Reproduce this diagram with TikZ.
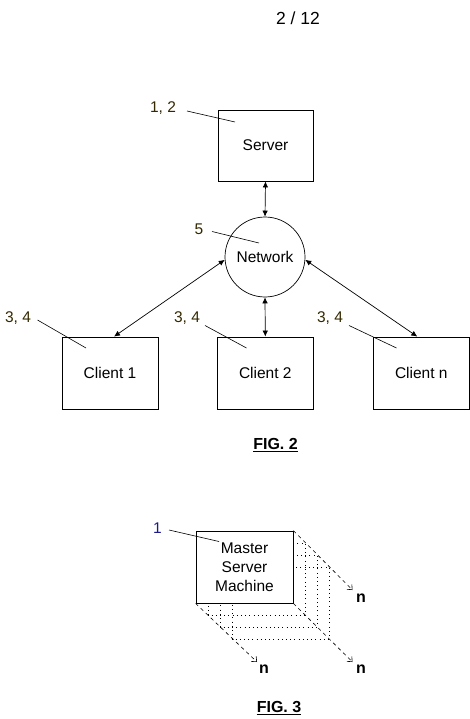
\documentclass[tikz,border=0pt]{standalone}
\usepackage{fontspec}
\setmainfont{Liberation Sans}
\usetikzlibrary{arrows.meta,calc}
\definecolor{numc}{HTML}{332800}
\definecolor{bluec}{HTML}{1A1A8C}
\begin{document}
\begin{tikzpicture}[x=1pt,y=-1pt,
  txt/.style={font=\fontsize{15.5}{19}\selectfont, inner sep=0pt},
  box/.style={draw, line width=0.8pt, minimum width=96pt, minimum height=72pt, inner sep=0pt, font=\fontsize{15.5}{19}\selectfont},
  num/.style={font=\fontsize{15.5}{19}\selectfont, inner sep=0pt, text=numc},
  lead/.style={line width=0.6pt},
  biarr/.style={line width=0.7pt, {Latex[length=6pt,width=5.5pt]}-{Latex[length=6pt,width=5.5pt]}},
  ghost/.style={line width=0.7pt, dash pattern=on 0.8pt off 3.4pt},
  darr/.style={line width=0.6pt, dash pattern=on 3.5pt off 3.5pt, -{Straight Barb[length=4pt,width=7pt]}},
  figlbl/.style={font=\bfseries\fontsize{16}{19}\selectfont, inner sep=0pt},
  ]
\useasboundingbox (0,0) rectangle (470,719);
% header
\node[font=\fontsize{17.5}{20}\selectfont, inner sep=0pt] (hdr) at (298,18) {2 / 12};
% FIG 2
\node[box, minimum width=95pt, minimum height=71pt] (srv) at (265.5,145.5) {Server};
\node[draw, circle, line width=0.7pt, minimum size=80pt, inner sep=0pt, font=\fontsize{15.5}{19}\selectfont] (net) at (265,257) {Network};
\node[box] (c1) at (110,373) {Client 1};
\node[box] (c2) at (265.3,373) {Client 2};
\node[box] (cn) at (421.3,373) {Client n};
\draw[biarr] (srv.south) -- (net.north);
\draw[biarr] (net.south) -- (c2.north);
\draw[biarr] ([xshift=4pt]c1.north) -- (net.184);
\draw[biarr] ([xshift=-4pt]cn.north) -- (net.356);
% reference numerals
\node[num] (n12) at (163,108) {1, 2};
\coordinate (n12e) at (235,122);
\draw[lead] (187,111) -- (n12e);
\node[num] (n5) at (199,229) {5};
\coordinate (n5e) at (259,243);
\draw[lead] (212,231.5) -- (n5e);
\node[num] (n34a) at (18,318) {3, 4};
\coordinate (n34ae) at (86,348);
\draw[lead] (37.5,320) -- (n34ae);
\node[num] (n34b) at (187,318) {3, 4};
\coordinate (n34be) at (246.5,348);
\draw[lead] (205,325.5) -- (n34be);
\node[num] (n34c) at (330,318) {3, 4};
\coordinate (n34ce) at (396.5,348);
\draw[lead] (349,325.5) -- (n34ce);
\node[figlbl] (f2) at (275.5,443.5) {FIG. 2};
\draw[line width=1.4pt] ([yshift=-2.5pt]f2.base west) -- ([yshift=-2.5pt]f2.base east);
% FIG 3 ghost copies
\foreach \d in {12,24,36}{
  \draw[ghost] (196+\d,531+\d) rectangle (293+\d,603+\d);
}
\node[box, fill=white, minimum width=97pt, align=center, font=\fontsize{15.5}{19}\selectfont] (m) at (244.5,567) {Master\\Server\\Machine};
\node[txt, font=\bfseries\fontsize{16}{19}\selectfont] (na) at (361,598) {n};
\node[txt, font=\bfseries\fontsize{16}{19}\selectfont] (nb) at (361,669) {n};
\node[txt, font=\bfseries\fontsize{16}{19}\selectfont] (nc) at (264,669) {n};
\coordinate (ta) at (352.5,590);
\coordinate (tb) at (352.5,662);
\coordinate (tc) at (257,662);
\draw[darr] (m.north east) -- (ta);
\draw[darr] (m.south east) -- (tb);
\draw[darr] (m.south west) -- (tc);
\node[txt, text=bluec] (n1) at (157.5,528.5) {1};
\coordinate (n1e) at (219,541.5);
\draw[lead] (169,530) -- (n1e);
\node[figlbl] (f3) at (279,706.5) {FIG. 3};
\draw[line width=1.4pt] ([yshift=-2.5pt]f3.base west) -- ([yshift=-2.5pt]f3.base east);
\end{tikzpicture}
\end{document}
